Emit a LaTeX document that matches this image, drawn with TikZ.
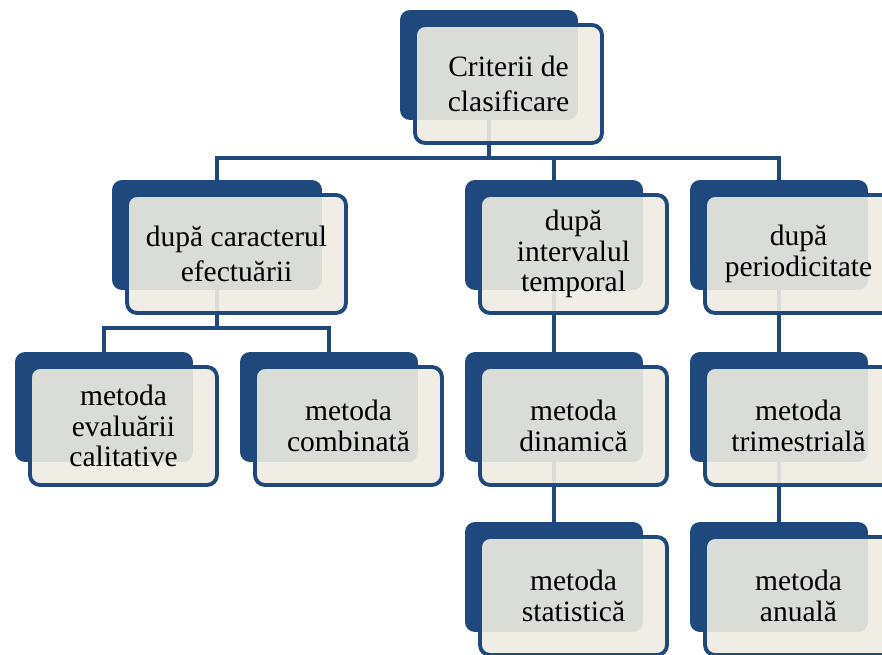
\documentclass[tikz,border=0pt]{standalone}
\usepackage{fontspec}
\setmainfont{Liberation Serif}
\usetikzlibrary{positioning}

\definecolor{darkblue}{HTML}{1F497D}
\definecolor{cream}{HTML}{EEECE1}

\tikzset{
    backbox/.style={rectangle, rounded corners=0.2cm, fill=darkblue, inner sep=0pt,
        minimum width=3.56cm, minimum height=2.2cm},
    frontbox/.style={rectangle, rounded corners=0.2cm, draw=darkblue, line width=2.2pt,
        fill=cream, fill opacity=0.9, text opacity=1, align=center, inner sep=0pt,
        minimum width=3.74cm, minimum height=2.36cm, xshift=0.39cm, yshift=-0.38cm,
        font=\fontsize{16.8}{17.5}\selectfont},
    conn/.style={draw=darkblue, line width=2.3pt}
}

\begin{document}
\begin{tikzpicture}[x=0.02cm, y=-0.02cm]
    \useasboundingbox (0,0) rectangle (882,655);
    \clip (0,0) rectangle (882,655);

    % back boxes
    \node (bcrit) [backbox] at (489,65) {};
    \node (bcaract) [backbox, minimum width=4.2cm] at (217,235) {};
    \node (binterv) [backbox] at (554,235) {};
    \node (bperiod) [backbox] at (779,235) {};
    \node (beval) [backbox] at (104,407) {};
    \node (bcomb) [backbox] at (329,407) {};
    \node (bdinam) [backbox] at (554,407) {};
    \node (btrim) [backbox] at (779,407) {};
    \node (bstat) [backbox] at (554,577) {};
    \node (banual) [backbox] at (779,577) {};

    % connectors
    \draw [conn] (bcrit.center) -- ++(0,93) -| (bcaract.center);
    \draw [conn] (bcrit.center) -- ++(0,93) -| (binterv.center);
    \draw [conn] (bcrit.center) -- ++(0,93) -| (bperiod.center);
    \draw [conn] (bcaract.center) -- ++(0,93) -| (beval.center);
    \draw [conn] (bcaract.center) -- ++(0,93) -| (bcomb.center);
    \draw [conn] (binterv.center) -- (bdinam.center);
    \draw [conn] (bdinam.center) -- (bstat.center);
    \draw [conn] (bperiod.center) -- (btrim.center);
    \draw [conn] (btrim.center) -- (banual.center);

    % front boxes
    \node (crit) [frontbox, font=\fontsize{16.8}{19.5}\selectfont] at (bcrit) {Criterii de\\clasificare};
    \node (caract) [frontbox, minimum width=4.38cm, font=\fontsize{16.8}{19.5}\selectfont] at (bcaract) {după caracterul\\efectuării};
    \node (interv) [frontbox] at (binterv) {după\\intervalul\\temporal};
    \node (period) [frontbox] at (bperiod) {după\\periodicitate};
    \node (eval) [frontbox] at (beval) {metoda\\evaluării\\calitative};
    \node (comb) [frontbox] at (bcomb) {metoda\\combinată};
    \node (dinam) [frontbox] at (bdinam) {metoda\\dinamică};
    \node (trim) [frontbox] at (btrim) {metoda\\trimestrială};
    \node (stat) [frontbox] at (bstat) {metoda\\statistică};
    \node (anual) [frontbox] at (banual) {metoda\\anuală};
\end{tikzpicture}
\end{document}
